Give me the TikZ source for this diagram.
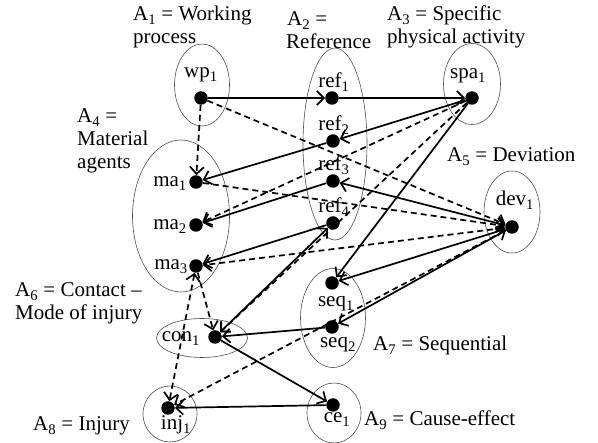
\documentclass[tikz,border=0pt]{standalone}
\usepackage{fontspec}
\setmainfont{Liberation Serif}
\usetikzlibrary{arrows.meta,shapes.geometric}
\begin{document}
\begin{tikzpicture}[x=1pt,y=-1pt,
  font=\fontsize{21}{23}\selectfont,
  >={Straight Barb[length=7pt,width=14pt]},
  dot/.style={circle,fill=black,minimum size=13.5pt,inner sep=0pt},
  grp/.style={ellipse,draw=black!70,line width=0.6pt,inner sep=0pt},
  lbl/.style={inner sep=0pt},
  sol/.style={line width=1.7pt},
  das/.style={line width=1.7pt,dash pattern=on 6pt off 4pt}]
\useasboundingbox (0,0) rectangle (598,443);
% group ellipses
\node[grp,minimum width=55pt,minimum height=82pt] (e1) at (202,85) {};
\node[grp,minimum width=64pt,minimum height=192pt] (e2) at (335,144) {};
\node[grp,minimum width=57pt,minimum height=81pt] (e3) at (472,84) {};
\node[grp,minimum width=97pt,minimum height=152pt] (e4) at (181,216) {};
\node[grp,minimum width=56pt,minimum height=82pt] (e5) at (512,212) {};
\node[grp,minimum width=91pt,minimum height=39pt] (e6) at (202,338) {};
\node[grp,minimum width=65pt,minimum height=99pt] (e7) at (333,318) {};
\node[grp,minimum width=54pt,minimum height=56pt] (e8) at (170,414) {};
\node[grp,minimum width=54pt,minimum height=60pt] (e9) at (334,413) {};
% dots
\node[dot] (wp1) at (201,98) {};
\node[dot] (ref1) at (332,98) {};
\node[dot] (spa1) at (472,98) {};
\node[dot] (ref2) at (333,141) {};
\node[dot] (ref3) at (333,181) {};
\node[dot] (ref4) at (333,223) {};
\node[dot] (ma1) at (196,182) {};
\node[dot] (ma2) at (196,225) {};
\node[dot] (ma3) at (196,266) {};
\node[dot] (dev1) at (512,227) {};
\node[dot] (con1) at (215,337) {};
\node[dot] (seq1) at (332,283) {};
\node[dot] (seq2) at (332,327) {};
\node[dot] (inj1) at (168,408) {};
\node[dot] (ce1) at (333,405) {};
% node labels
\node[lbl,anchor=base] (twp) at (201,78) {wp\textsubscript{1}};
\node[lbl,anchor=base] (tref1) at (334,88) {ref\textsubscript{1}};
\node[lbl,anchor=base] (tref2) at (334,131) {ref\textsubscript{2}};
\node[lbl,anchor=base] (tref3) at (334,171) {ref\textsubscript{3}};
\node[lbl,anchor=base] (tref4) at (334,213) {ref\textsubscript{4}};
\node[lbl,anchor=base] (tspa) at (468,79) {spa\textsubscript{1}};
\node[lbl,anchor=base east] (tma1) at (187,187) {ma\textsubscript{1}};
\node[lbl,anchor=base east] (tma2) at (187,230) {ma\textsubscript{2}};
\node[lbl,anchor=base east] (tma3) at (188,270) {ma\textsubscript{3}};
\node[lbl,anchor=base] (tdev) at (515,206) {dev\textsubscript{1}};
\node[lbl,anchor=base] (tcon) at (181,342) {con\textsubscript{1}};
\node[lbl,anchor=base] (tseq1) at (336,307) {seq\textsubscript{1}};
\node[lbl,anchor=base] (tseq2) at (338,348) {seq\textsubscript{2}};
\node[lbl,anchor=base] (tinj) at (176,430) {inj\textsubscript{1}};
\node[lbl,anchor=base] (tce) at (337,423) {ce\textsubscript{1}};
% attribute labels
\node[lbl,anchor=base west] (a1a) at (133,21) {A\textsubscript{1} = Working};
\node[lbl,anchor=base west] (a1b) at (133,44) {process};
\node[lbl,anchor=base west] (a2a) at (287,26) {A\textsubscript{2} =};
\node[lbl,anchor=base west] (a2b) at (286,49) {Reference};
\node[lbl,anchor=base west] (a3a) at (387,21) {A\textsubscript{3} = Specific};
\node[lbl,anchor=base west] (a3b) at (387,44) {physical activity};
\node[lbl,anchor=base west] (a4a) at (77,123) {A\textsubscript{4} =};
\node[lbl,anchor=base west] (a4b) at (77,146) {Material};
\node[lbl,anchor=base west] (a4c) at (77,169) {agents};
\node[lbl,anchor=base west] (a5) at (447,162) {A\textsubscript{5} = Deviation};
\node[lbl,anchor=base west] (a6a) at (15,297) {A\textsubscript{6} = Contact --};
\node[lbl,anchor=base west] (a6b) at (15,320) {Mode of injury};
\node[lbl,anchor=base west] (a7) at (373,351) {A\textsubscript{7} = Sequential};
\node[lbl,anchor=base west] (a8) at (33,431) {A\textsubscript{8} = Injury};
\node[lbl,anchor=base west] (a9) at (364,426) {A\textsubscript{9} = Cause-effect};
% solid connectors
\draw[sol,->] (wp1) -- (ref1);
\draw[sol,->] (ref1) -- (spa1);
\draw[sol,->] (spa1) -- (ref2);
\draw[sol,->] (ref2) -- (ma1);
\draw[sol,<->] (dev1) -- (ref3);
\draw[sol,->] (ref3) -- (ma2);
\draw[sol,->] (ref4) -- (ma3);
\draw[sol,<->] (con1) -- (ref4);
\draw[sol,->] (spa1) -- (seq1);
\draw[sol,->] (dev1) -- (seq1);
\draw[sol,->] (dev1) -- (seq2);
\draw[sol,->] (seq2) -- (con1);
\draw[sol,->] (con1) -- (ce1);
\draw[sol,->] (ce1) -- (inj1);
% dashed connectors
\draw[das,->] (wp1) -- (ma1);
\draw[das,->] (wp1) -- (dev1);
\draw[das,->] (ma1) -- (dev1);
\draw[das,->] (spa1) -- (ma2);
\draw[das,->] (spa1) -- (con1);
\draw[das,<->] (dev1) -- (ma3);
\draw[das,->] (ma3) -- (con1);
\draw[das,<->] (ma3) -- (inj1);
\draw[das,<->] (dev1) -- (inj1);
\end{tikzpicture}
\end{document}
